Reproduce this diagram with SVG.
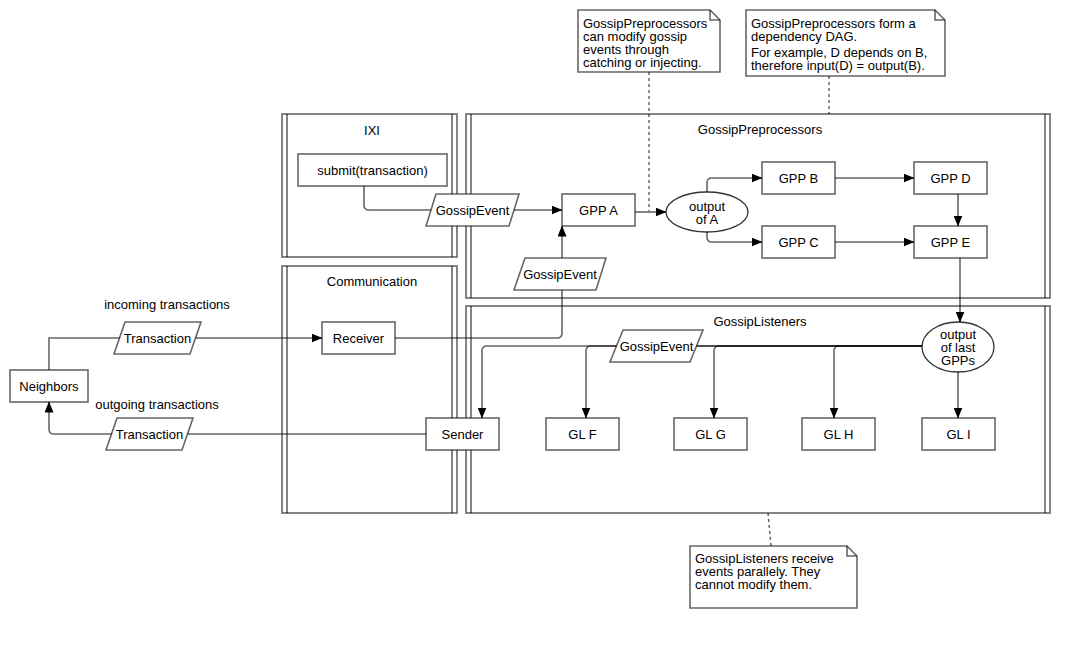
<svg xmlns="http://www.w3.org/2000/svg" width="1090" height="649" viewBox="0 0 1090 649">
<style>
.c{fill:#fff;stroke:#000;stroke-opacity:.6;stroke-width:1.6}
.ln{fill:none;stroke:#000;stroke-opacity:.6;stroke-width:1.6}
.b{fill:#fff;stroke:#000;stroke-opacity:.6;stroke-width:1.6}
.el{fill:#fff;stroke:#000;stroke-opacity:.8;stroke-width:1.3}
.e{fill:none;stroke:#000;stroke-opacity:.6;stroke-width:1.6}
.d{fill:none;stroke:#000;stroke-opacity:.6;stroke-width:1.5;stroke-dasharray:3 3}
text{font-family:"Liberation Sans",Arial,Helvetica,sans-serif;font-size:13px;fill:#000}
.m{text-anchor:middle}
</style>
<defs>
<marker id="arr" markerUnits="userSpaceOnUse" markerWidth="11" markerHeight="9" viewBox="0 0 11 9" refX="10.5" refY="4.5" orient="auto">
<path d="M0,0 L11,4.5 L0,9 Z" fill="#000"/>
</marker>
</defs>
<rect width="1090" height="649" fill="#fff"/>

<g id="containers">
<g id="ixi">
<rect class="c" x="282" y="114" width="175" height="143"/>
<path class="ln" d="M287,114 V257 M452,114 V257"/>
<text class="m" x="372" y="134.5">IXI</text>
</g>
<g id="communication">
<rect class="c" x="282" y="266" width="175" height="247"/>
<path class="ln" d="M287,266 V513 M452,266 V513"/>
<text class="m" x="372" y="286">Communication</text>
</g>
<g id="gossip-preprocessors">
<rect class="c" x="466" y="114" width="584" height="184"/>
<path class="ln" d="M471,114 V298 M1045,114 V298"/>
<text class="m" x="760" y="134">GossipPreprocessors</text>
</g>
<g id="gossip-listeners">
<rect class="c" x="466" y="306" width="584" height="207"/>
<path class="ln" d="M471,306 V513 M1045,306 V513"/>
<text class="m" x="760" y="326">GossipListeners</text>
</g>
</g>

<g id="notes">
<g id="note-modify">
<path class="b" d="M578,10 H710 L720,20 V72 H578 Z"/>
<path class="ln" d="M710,10 V20 H720"/>
<text x="583" y="27.5">GossipPreprocessors</text>
<text x="583" y="40.5">can modify gossip</text>
<text x="583" y="53.5">events through</text>
<text x="583" y="66.5">catching or injecting.</text>
</g>
<g id="note-dag">
<path class="b" d="M746,10 H935 L945,20 V76 H746 Z"/>
<path class="ln" d="M935,10 V20 H945"/>
<text x="751" y="27.5">GossipPreprocessors form a</text>
<text x="751" y="40.5">dependency DAG.</text>
<text x="751" y="57">For example, D depends on B,</text>
<text x="751" y="70">therefore input(D) = output(B).</text>
</g>
<g id="note-listeners">
<path class="b" d="M690,546 H847 L857,556 V608 H690 Z"/>
<path class="ln" d="M847,546 V556 H857"/>
<text x="695" y="563">GossipListeners receive</text>
<text x="695" y="576">events parallely. They</text>
<text x="695" y="589">cannot modify them.</text>
</g>
</g>

<g id="connectors">
<path class="d" d="M649,72 V211"/>
<path class="d" d="M829,76 V114"/>
<path class="d" d="M768,513 L771,546"/>
<path class="e" d="M364,186 V205 Q364,210 369,210 H562" marker-end="url(#arr)"/>
<path class="e" d="M635,212 H666" marker-end="url(#arr)"/>
<path class="e" d="M707,192 V183 Q707,178 712,178 H762" marker-end="url(#arr)"/>
<path class="e" d="M707,232 V237 Q707,242 712,242 H762" marker-end="url(#arr)"/>
<path class="e" d="M835,178 H914" marker-end="url(#arr)"/>
<path class="e" d="M835,242 H914" marker-end="url(#arr)"/>
<path class="e" d="M958,194 V226" marker-end="url(#arr)"/>
<path class="e" d="M960,258 V322" marker-end="url(#arr)"/>
<path class="e" d="M958,372 V418" marker-end="url(#arr)"/>
<path class="e" d="M922,346 H839 Q834,346 834,351 V418" marker-end="url(#arr)"/>
<path class="e" d="M922,346 H719 Q714,346 714,351 V418" marker-end="url(#arr)"/>
<path class="e" d="M922,346 H591 Q586,346 586,351 V418" marker-end="url(#arr)"/>
<path class="e" d="M922,346 H487 Q482,346 482,351 V418" marker-end="url(#arr)"/>
<path class="e" d="M395,338 H557 Q562,338 562,333 V226" marker-end="url(#arr)"/>
<path class="e" d="M49,370 V338 H322" marker-end="url(#arr)"/>
<path class="e" d="M426,434 H54 Q49,434 49,429 V402" marker-end="url(#arr)"/>
</g>

<g id="edge-labels">
<text class="m" x="167" y="308.5">incoming transactions</text>
<text class="m" x="157" y="408.5">outgoing transactions</text>
</g>

<g id="nodes">
<g id="submit"><rect class="b" x="298" y="154" width="149" height="32"/><text class="m" x="372.5" y="174.5">submit(transaction)</text></g>
<g id="gossip-event-1"><polygon class="b" points="436,194 519,194 509,226 426,226"/><text class="m" x="472.5" y="214.5">GossipEvent</text></g>
<g id="gpp-a"><rect class="b" x="562" y="194" width="73" height="32"/><text class="m" x="598.5" y="214.5">GPP A</text></g>
<g id="gossip-event-2"><polygon class="b" points="525,258 606,258 596,290 514,290"/><text class="m" x="560" y="278.5">GossipEvent</text></g>
<g id="output-a"><ellipse class="el" cx="707" cy="212" rx="41" ry="20"/><text class="m" x="707" y="210.5">output</text><text class="m" x="707" y="223.5">of A</text></g>
<g id="gpp-b"><rect class="b" x="762" y="162" width="73" height="32"/><text class="m" x="798.5" y="182.5">GPP B</text></g>
<g id="gpp-c"><rect class="b" x="762" y="226" width="73" height="32"/><text class="m" x="798.5" y="246.5">GPP C</text></g>
<g id="gpp-d"><rect class="b" x="914" y="162" width="73" height="32"/><text class="m" x="950.5" y="182.5">GPP D</text></g>
<g id="gpp-e"><rect class="b" x="914" y="226" width="73" height="32"/><text class="m" x="950.5" y="246.5">GPP E</text></g>
<g id="output-last"><ellipse class="el" cx="958" cy="347" rx="36" ry="25"/><text class="m" x="958" y="339">output</text><text class="m" x="958" y="352">of last</text><text class="m" x="958" y="365">GPPs</text></g>
<g id="gossip-event-3"><polygon class="b" points="623,330 703,330 690,362 610,362"/><text class="m" x="656.5" y="350.5">GossipEvent</text></g>
<g id="receiver"><rect class="b" x="322" y="322" width="73" height="32"/><text class="m" x="358.5" y="342.5">Receiver</text></g>
<g id="sender"><rect class="b" x="426" y="418" width="73" height="32"/><text class="m" x="462.5" y="438.5">Sender</text></g>
<g id="neighbors"><rect class="b" x="10" y="370" width="78" height="32"/><text class="m" x="49" y="390.5">Neighbors</text></g>
<g id="tx-in"><polygon class="b" points="125,322 201,322 190,354 114,354"/><text class="m" x="157.5" y="342.5">Transaction</text></g>
<g id="tx-out"><polygon class="b" points="117,418 193,418 182,450 106,450"/><text class="m" x="149.5" y="438.5">Transaction</text></g>
<g id="gl-f"><rect class="b" x="546" y="418" width="73" height="32"/><text class="m" x="582.5" y="438.5">GL F</text></g>
<g id="gl-g"><rect class="b" x="674" y="418" width="73" height="32"/><text class="m" x="710.5" y="438.5">GL G</text></g>
<g id="gl-h"><rect class="b" x="802" y="418" width="73" height="32"/><text class="m" x="838.5" y="438.5">GL H</text></g>
<g id="gl-i"><rect class="b" x="922" y="418" width="73" height="32"/><text class="m" x="958.5" y="438.5">GL I</text></g>
</g>
</svg>
